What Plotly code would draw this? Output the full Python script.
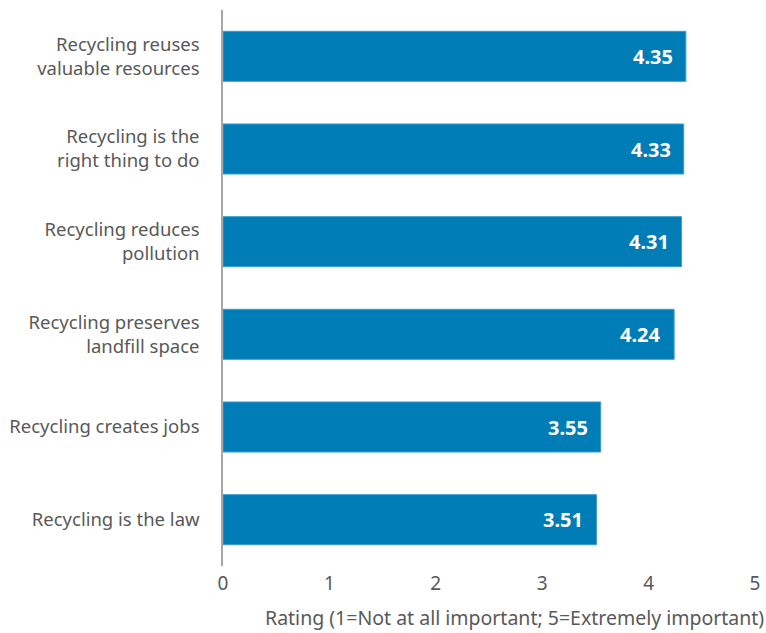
import plotly.graph_objects as go

# Survey items (top to bottom) and their mean importance ratings
statements = [
    "Recycling reuses<br>valuable resources",
    "Recycling is the<br>right thing to do",
    "Recycling reduces<br>pollution",
    "Recycling preserves<br>landfill space",
    "Recycling creates jobs",
    "Recycling is the law",
]
ratings = [4.35, 4.33, 4.31, 4.24, 3.55, 3.51]
x_ticks = [0, 1, 2, 3, 4, 5]

BAR_COLOR = "#007cb6"
TEXT_COLOR = "#595959"
FONT = "Noto Sans, Open Sans, sans-serif"

fig = go.Figure(
    go.Bar(
        x=ratings,
        y=statements,
        orientation="h",
        marker=dict(color=BAR_COLOR, line=dict(color="#3d9cd0", width=1)),
        hoverinfo="x+y",
    )
)

# value labels just inside the end of each bar
for s, r in zip(statements, ratings):
    fig.add_annotation(
        x=r, y=s, xref="x", yref="y",
        text=f"<b>{r:.2f}</b>",
        xanchor="right", xshift=-11, showarrow=False,
        font=dict(family=FONT, size=20, color="white"),
    )

fig.add_annotation(
    text="Rating (1=Not at all important; 5=Extremely important)",
    xref="paper", yref="paper", x=1, y=0,
    xanchor="right", yanchor="top", xshift=11, yshift=-36,
    showarrow=False,
    font=dict(family=FONT, size=19.5, color=TEXT_COLOR),
)

fig.update_layout(
    width=766, height=633,
    margin=dict(l=223, r=6, t=10, b=67),
    paper_bgcolor="white", plot_bgcolor="white",
    bargap=0.46,
    showlegend=False,
    font=dict(family=FONT, size=18.5, color=TEXT_COLOR),
    xaxis=dict(
        range=[0, 5], tickvals=x_ticks, showgrid=False, zeroline=False,
        showline=False, ticks="", ticklabelstandoff=4,
        tickfont=dict(size=19, color=TEXT_COLOR),
    ),
    yaxis=dict(
        autorange="reversed", showgrid=False, zeroline=False,
        showline=True, linecolor="#a6a6a6", linewidth=1.5,
        ticks="", ticklabelstandoff=18,
        tickfont=dict(size=18.5, color=TEXT_COLOR),
    ),
)

fig.write_html("out.html")
